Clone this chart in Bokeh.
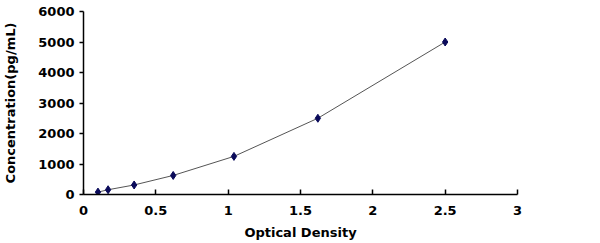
from bokeh.plotting import figure
from bokeh.models import Range1d, FixedTicker
from bokeh.embed import file_html
from bokeh.resources import INLINE

od = [0.10, 0.17, 0.35, 0.62, 1.04, 1.62, 2.50]
conc = [78, 156, 312, 625, 1250, 2500, 5000]
x_ticks = [0, 0.5, 1, 1.5, 2, 2.5, 3]
y_ticks = [0, 1000, 2000, 3000, 4000, 5000, 6000]

p = figure(width=600, height=243, output_backend="svg", toolbar_location=None,
           x_range=Range1d(0, 3), y_range=Range1d(0, 6000),
           min_border_left=83, min_border_right=83, min_border_top=11, min_border_bottom=49)
p.outline_line_color = None
p.grid.visible = False
p.background_fill_color = "white"
p.border_fill_color = "white"

p.line(od, conc, line_color="#555555", line_width=1)
p.scatter(od, conc, marker="diamond", size=8, fill_color="#0a0a5a", line_color="#0a0a5a")

font = "DejaVu Sans"
p.xaxis.ticker = FixedTicker(ticks=x_ticks)
p.yaxis.ticker = FixedTicker(ticks=y_ticks)
p.xaxis.major_label_overrides = {0: "0", 0.5: "0.5", 1: "1", 1.5: "1.5", 2: "2", 2.5: "2.5", 3: "3"}
for ax in (p.xaxis, p.yaxis):
    ax.axis_line_color = "black"
    ax.axis_line_width = 1.5
    ax.major_tick_line_color = "black"
    ax.major_tick_line_width = 1.5
    ax.minor_tick_line_color = None
    ax.major_label_text_font = font
    ax.major_label_text_font_style = "bold"
    ax.major_label_text_font_size = "13px"
    ax.major_label_text_color = "black"
    ax.axis_label_text_font = font
    ax.axis_label_text_font_style = "bold"
    ax.axis_label_text_font_size = "13px"
    ax.axis_label_text_color = "black"

p.xaxis.major_tick_in = 5
p.xaxis.major_tick_out = 0
p.yaxis.major_tick_in = 0
p.yaxis.major_tick_out = 4
p.xaxis.major_label_standoff = 11
p.yaxis.major_label_standoff = 5
p.xaxis.axis_label = "Optical Density"
p.yaxis.axis_label = "Concentration(pg/mL)"
p.xaxis.axis_label_standoff = 7
p.yaxis.axis_label_standoff = 17

open("out.html", "w").write(file_html(p, INLINE))
